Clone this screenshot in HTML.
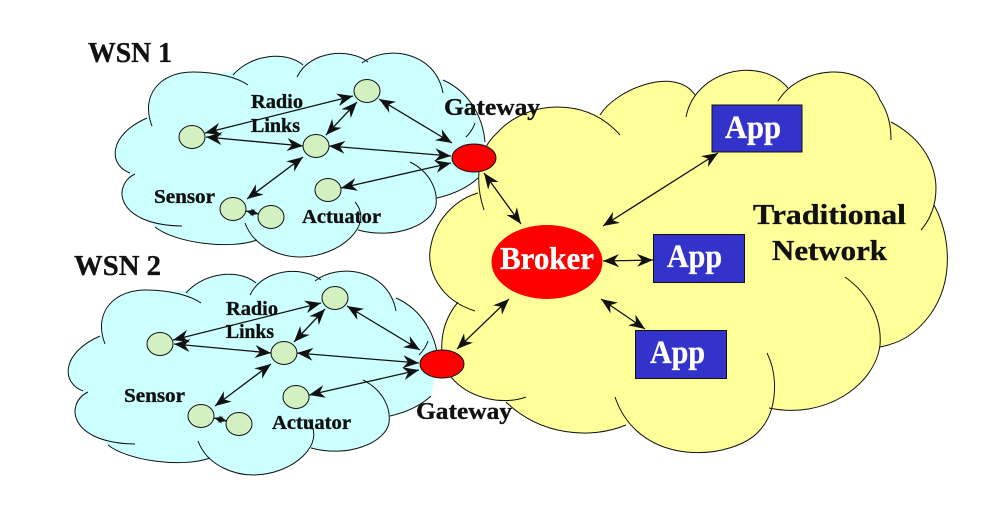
<!DOCTYPE html>
<html><head><meta charset="utf-8"><style>
html,body{margin:0;padding:0;background:#fff}
svg{display:block}
text{font-family:"Liberation Serif",serif;font-weight:bold;fill:#111;stroke:#111;stroke-width:.35}
text.w{fill:#fff;stroke:#fff}
</style></head><body>
<svg xmlns="http://www.w3.org/2000/svg" width="1006" height="512" viewBox="0 0 1006 512">
<defs>
<marker id="a" viewBox="0 -7 16 14" refX="16" refY="0" markerWidth="16" markerHeight="14" markerUnits="userSpaceOnUse" orient="auto-start-reverse"><path d="M16,0 L0,-6.5 L5,0 L0,6.5 Z" fill="#111"/></marker>
<marker id="s" viewBox="0 -7 16 14" refX="16" refY="0" markerWidth="9" markerHeight="8" markerUnits="userSpaceOnUse" orient="auto-start-reverse"><path d="M16,0 L0,-6.5 L5,0 L0,6.5 Z" fill="#111"/></marker>
<g id="cloud">
<polygon fill="#ccffff" points="130,173 147,118 193,75 233,72 270,62 303,62 368,60 443,80 485,142 478,178 437,198 436,205 358,230 300,250 257,241 200,242 155,227 120,193"/>
<path fill="#ccffff" d="M130 173C108 165 108 135 147 118M152 126C140 95 160 72 193 72C218 72 238 78 248 85M233 75C250 55 285 50 303 65M297 77C310 50 350 48 368 62M362 63C385 45 435 50 443 93M443 80C470 92 483 118 485 142M478 178C465 190 450 195 437 198M410 162C430 172 438 190 436 205C432 225 395 240 358 230M245 223C255 250 285 257 300 257C340 257 375 225 355 202M135 174C112 185 115 225 182 226M155 227C175 243 230 250 257 240"/>
<path fill="none" stroke="#111" stroke-width="1" d="M130 173C108 165 108 135 147 118M152 126C140 95 160 72 193 72C218 72 238 78 248 85M233 75C250 55 285 50 303 65M297 77C310 50 350 48 368 62M362 63C385 45 435 50 443 93M443 80C470 92 483 118 485 142M475 123C473 129 470 133 466 137M478 178C465 190 450 195 437 198M410 162C430 172 438 190 436 205C432 225 395 240 358 230M245 223C255 250 285 257 300 257C340 257 375 225 355 202M135 174C112 185 115 225 182 226M155 227C175 243 230 250 257 240"/>
</g>
<g id="net">
<g fill="none" stroke="#111" stroke-width="1.3">
<line x1="353" y1="96" x2="205" y2="133" marker-start="url(#a)" marker-end="url(#a)"/>
<line x1="206" y1="137" x2="303" y2="146" marker-start="url(#a)" marker-end="url(#a)"/>
<line x1="357" y1="102" x2="326" y2="135" marker-start="url(#a)" marker-end="url(#a)"/>
<line x1="379" y1="99" x2="452" y2="143" marker-start="url(#a)" marker-end="url(#a)"/>
<line x1="329" y1="146" x2="451" y2="156" marker-start="url(#a)" marker-end="url(#a)"/>
<line x1="303" y1="157" x2="247" y2="199" marker-start="url(#a)" marker-end="url(#a)"/>
<line x1="341" y1="188" x2="451" y2="163" marker-start="url(#a)" marker-end="url(#a)"/>
<line x1="246" y1="211" x2="259" y2="214" marker-start="url(#s)" marker-end="url(#s)"/>
</g>
<g fill="#d2f0c0" stroke="#111" stroke-width="1">
<ellipse cx="192" cy="137" rx="13" ry="11.5"/>
<ellipse cx="367" cy="91" rx="13" ry="11.5"/>
<ellipse cx="316" cy="146" rx="13" ry="11.5"/>
<ellipse cx="328" cy="190" rx="13" ry="11.5"/>
<ellipse cx="233" cy="209" rx="13" ry="11.5"/>
<ellipse cx="271" cy="217" rx="13" ry="11.5"/>
</g>
</g>
</defs>

<use href="#cloud"/>
<use href="#cloud" transform="translate(-47,218)"/>

<polygon fill="#ffff99" points="478,187 497,133 557,107 600,115 695,95 788,88 880,100 891,122 935,200 934,205 930,315 880,347 769,408 760,430 626,425 506,402 451,377 441,345 458,302 431,245"/>
<path fill="#ffff99" d="M484 210C474 180 478 150 497 133C515 113 540 107 557 107C585 107 605 118 620 135M600 115C615 90 675 65 695 95M686 117C695 70 760 55 788 88M778 101C800 65 865 60 880 100C890 115 891 130 891 140M891 122C925 140 940 170 935 200C933 212 928 222 921 230M934 205C950 235 955 280 930 315C915 335 900 343 880 347M845 277C870 295 882 320 880 345C875 385 825 420 769 408M767 353C778 375 778 410 760 430C735 460 640 470 615 397M626 425C590 440 540 435 506 402M526 397C505 405 470 400 451 377C440 365 435 330 458 302M475 311C440 300 425 270 431 245C437 215 460 198 478 193"/>
<path fill="none" stroke="#111" stroke-width="1" d="M484 210C474 180 478 150 497 133C515 113 540 107 557 107C585 107 605 118 620 135M600 115C615 90 675 65 695 95M686 117C695 70 760 55 788 88M778 101C800 65 865 60 880 100C890 115 891 130 891 140M891 122C925 140 940 170 935 200C933 212 928 222 921 230M934 205C950 235 955 280 930 315C915 335 900 343 880 347M845 277C870 295 882 320 880 345C875 385 825 420 769 408M767 353C778 375 778 410 760 430C735 460 640 470 615 397M626 425C590 440 540 435 506 402M526 397C505 405 470 400 451 377C440 365 435 330 458 302M475 311C440 300 425 270 431 245C437 215 460 198 478 193"/>

<use href="#net"/>
<use href="#net" transform="translate(-32,207)"/>

<g fill="none" stroke="#111" stroke-width="1.3">
<line x1="484" y1="173" x2="521" y2="224" marker-start="url(#a)" marker-end="url(#a)"/>
<line x1="603" y1="226" x2="718" y2="153" marker-start="url(#a)" marker-end="url(#a)"/>
<line x1="603" y1="261" x2="653" y2="260" marker-start="url(#a)" marker-end="url(#a)"/>
<line x1="601" y1="299" x2="645" y2="329" marker-start="url(#a)" marker-end="url(#a)"/>
<line x1="509" y1="299" x2="457" y2="349" marker-start="url(#a)" marker-end="url(#a)"/>
</g>

<ellipse cx="474" cy="158" rx="22" ry="14" fill="#ff0000" stroke="#111"/>
<ellipse cx="442" cy="364" rx="22" ry="14" fill="#ff0000" stroke="#111"/>
<ellipse cx="547" cy="262" rx="55.5" ry="37" fill="#ff0000"/>
<rect x="712" y="105" width="90" height="47" fill="#3333cc" stroke="#111"/>
<rect x="653.5" y="234.5" width="91" height="48" fill="#3333cc" stroke="#111"/>
<rect x="635.5" y="330.5" width="91" height="48" fill="#3333cc" stroke="#111"/>

<text x="88" y="62" font-size="29" textLength="84" lengthAdjust="spacingAndGlyphs">WSN 1</text>
<text x="74" y="275" font-size="29" textLength="87" lengthAdjust="spacingAndGlyphs">WSN 2</text>
<text x="251" y="108" font-size="20" textLength="52" lengthAdjust="spacingAndGlyphs">Radio</text>
<text x="251" y="132" font-size="20" textLength="49" lengthAdjust="spacingAndGlyphs">Links</text>
<text x="154" y="203" font-size="20" textLength="61" lengthAdjust="spacingAndGlyphs">Sensor</text>
<text x="302" y="223" font-size="20" textLength="79" lengthAdjust="spacingAndGlyphs">Actuator</text>
<text x="444" y="115" font-size="24" textLength="96" lengthAdjust="spacingAndGlyphs">Gateway</text>
<text x="416" y="419" font-size="24" textLength="96" lengthAdjust="spacingAndGlyphs">Gateway</text>
<text x="226" y="315" font-size="20" textLength="52" lengthAdjust="spacingAndGlyphs">Radio</text>
<text x="226" y="338" font-size="20" textLength="48" lengthAdjust="spacingAndGlyphs">Links</text>
<text x="124" y="402" font-size="20" textLength="61" lengthAdjust="spacingAndGlyphs">Sensor</text>
<text x="272" y="429" font-size="20" textLength="79" lengthAdjust="spacingAndGlyphs">Actuator</text>
<text x="753" y="224" font-size="29" textLength="153" lengthAdjust="spacingAndGlyphs">Traditional</text>
<text x="772" y="260" font-size="29" textLength="115" lengthAdjust="spacingAndGlyphs">Network</text>
<text class="w" x="500" y="269" font-size="32" textLength="94" lengthAdjust="spacingAndGlyphs">Broker</text>
<text class="w" x="725" y="138" font-size="33" textLength="56" lengthAdjust="spacingAndGlyphs">App</text>
<text class="w" x="667" y="267" font-size="33" textLength="55" lengthAdjust="spacingAndGlyphs">App</text>
<text class="w" x="650" y="363" font-size="33" textLength="55" lengthAdjust="spacingAndGlyphs">App</text>
</svg>
</body></html>
